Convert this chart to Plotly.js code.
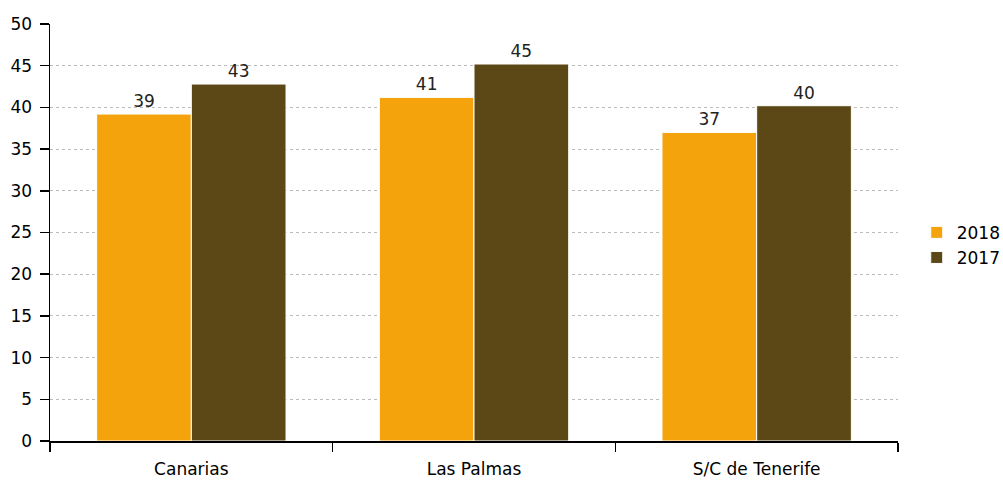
<!DOCTYPE html>
<html><head><meta charset="utf-8">
<script src="https://cdn.plot.ly/plotly-3.0.1.min.js"></script>
<style>body{margin:0;padding:0;background:#fff}#chart{width:1003px;height:481px}</style>
</head><body><div id="chart"></div>
<script>
const categories = ["Canarias", "Las Palmas", "S/C de Tenerife"];
const values2018 = [39.2, 41.2, 37.0];
const values2017 = [42.8, 45.2, 40.2];
const seriesNames = ["2018", "2017"];
const colors = ["#F5A30D", "#5C4716"];

const font = {family: "DejaVu Sans", size: 17, color: "#000"};
const mk = (name, y, color) => ({
  type: "bar", name: name, x: categories, y: y,
  marker: {color: color, line: {color: "#fff", width: 1}},
  text: y, texttemplate: "%{y:.0f}", textposition: "outside",
  textfont: {family: "DejaVu Sans", size: 17, color: "#222"},
  cliponaxis: false, hoverinfo: "none"
});
const data = [mk(seriesNames[0], values2018, colors[0]), mk(seriesNames[1], values2017, colors[1])];
const layout = {
  width: 1003, height: 481,
  margin: {l: 50, r: 105, t: 24, b: 40},
  paper_bgcolor: "#fff", plot_bgcolor: "#fff",
  font: font,
  barmode: "group", bargap: 0.33, bargroupgap: 0,
  showlegend: true,
  legend: {xref: "container", yref: "container", x: 0.914, y: 0.49, yanchor: "middle", xanchor: "left",
           font: font, tracegroupgap: 0, itemwidth: 30},
  xaxis: {showline: true, linecolor: "#000", linewidth: 1.5, ticks: "outside", tickson: "boundaries",
          ticklen: 9, tickcolor: "#000", tickwidth: 1.5, showgrid: false, tickfont: font, automargin: false,
          ticklabelstandoff: 12},
  yaxis: {range: [0, 50], dtick: 5, showline: true, linecolor: "#000", linewidth: 1.5, ticks: "outside",
          ticklen: 9, tickcolor: "#000", tickwidth: 1.5, showgrid: true, gridcolor: "#bbb", griddash: "dot",
          gridwidth: 1.2, zeroline: false, tickfont: font, automargin: false, ticklabelstandoff: 4}
};
Plotly.newPlot("chart", data, layout, {displayModeBar: false, staticPlot: true});
</script></body></html>
